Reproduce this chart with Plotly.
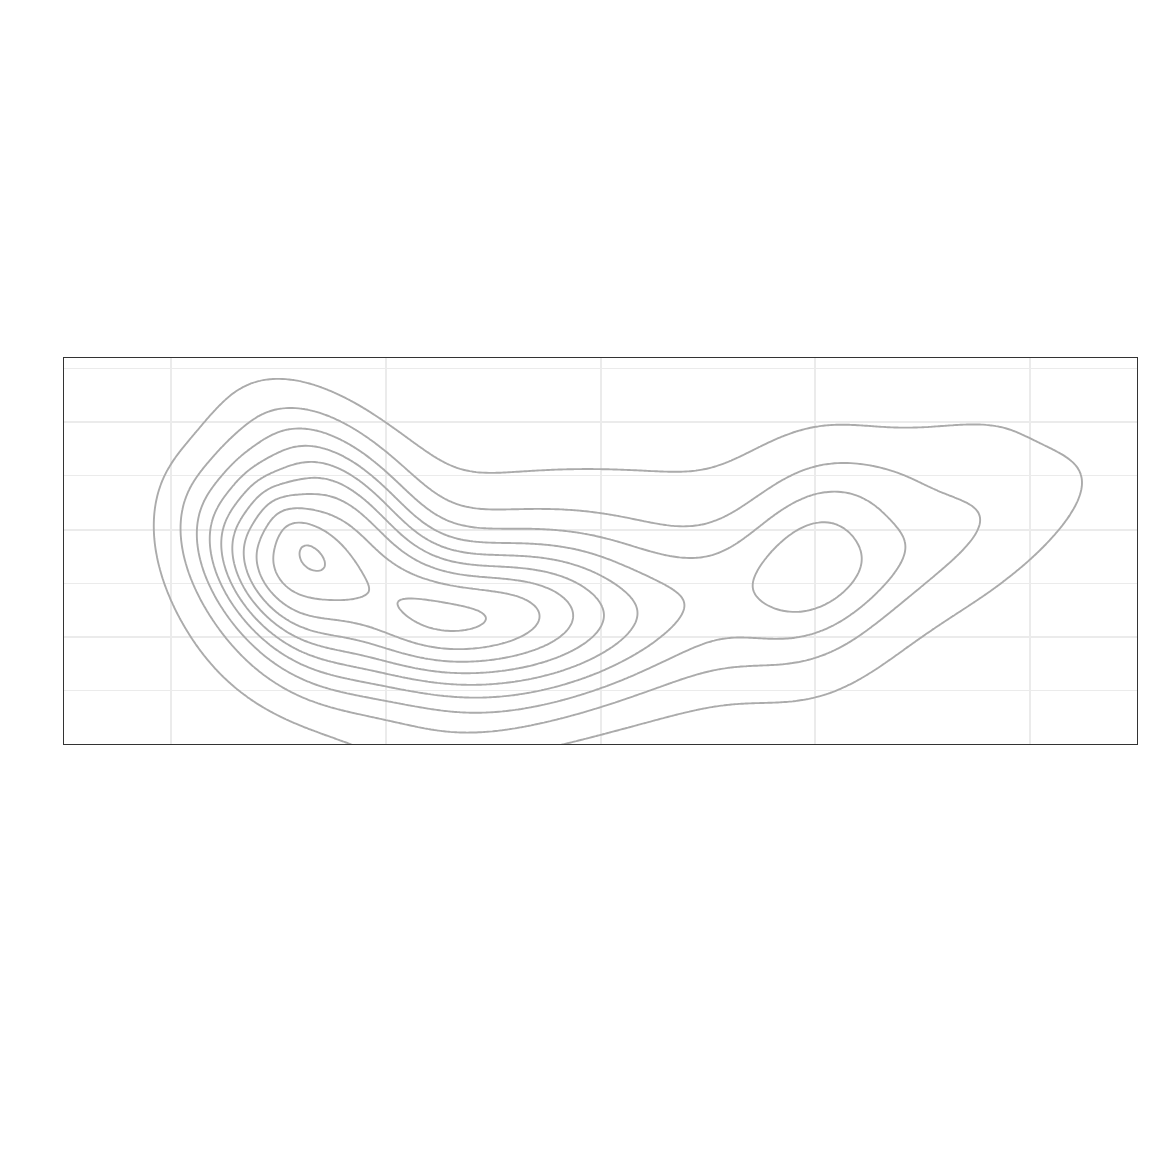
import numpy as np
import plotly.graph_objects as go

# Density surface described as a mixture of components
comp_x = [1.4785, 2.4874, 1.8124, 4.0001, 4.3122, 3.5397, 3.1309, 1.6202]
comp_y = [1.5976, 1.1690, 2.0612, 1.7413, 1.6497, 1.4616, 1.5566, 1.9013]
comp_sx = [0.2460, 0.4826, 0.2964, 0.2383, 0.6201, 1.0007, 1.7611, 0.1693]
comp_sy = [0.5495, 0.5023, 0.6748, 0.7049, 0.6658, 1.1743, 1.0779, 0.3882]
comp_rho = [-0.4596, 0.1969, -0.5400, 0.1569, 0.8458, 0.9402, 0.1361, -0.7697]
comp_w = [6.6150, 7.2072, 6.0834, 1.7862, 1.3841, 1.2175, 1.3683, 1.1991]

contour_levels = list(range(1, 11))
x_ticks = [1, 2, 3, 4, 5]
y_ticks = [1, 2, 3]
y_minor_ticks = [0.5, 1.5, 2.5, 3.5]

xs = np.linspace(0.3, 5.7, 360)
ys = np.linspace(-0.3, 3.9, 300)
XX, YY = np.meshgrid(xs, ys)
Z = np.zeros_like(XX)
for cx, cy, sx, sy, rho, w in zip(comp_x, comp_y, comp_sx, comp_sy, comp_rho, comp_w):
    dx = (XX - cx) / sx
    dy = (YY - cy) / sy
    Q = (dx * dx - 2 * rho * dx * dy + dy * dy) / (1 - rho * rho)
    Z += w * np.exp(-0.5 * Q)

fig = go.Figure()
fig.add_trace(go.Contour(
    x=xs, y=ys, z=Z,
    contours=dict(start=contour_levels[0], end=contour_levels[-1],
                  size=contour_levels[1] - contour_levels[0], coloring='lines'),
    colorscale=[[0, '#ABABAB'], [1, '#ABABAB']], showscale=False,
    line=dict(width=1.9), hoverinfo='skip'))

fig.update_layout(width=1152, height=1152, margin=dict(l=64, r=15, t=358, b=408),
                  plot_bgcolor='white', paper_bgcolor='white', showlegend=False)
fig.update_xaxes(range=[0.5, 5.5], tickvals=x_ticks, showticklabels=False, ticks='',
                 showgrid=True, gridcolor='#EBEBEB', gridwidth=2, zeroline=False,
                 showline=True, linecolor='#333333', linewidth=1.2, mirror=True)
fig.update_yaxes(range=[0, 3.6], tickvals=y_ticks, showticklabels=False, ticks='',
                 showgrid=True, gridcolor='#EBEBEB', gridwidth=2, zeroline=False,
                 showline=True, linecolor='#333333', linewidth=1.2, mirror=True,
                 minor=dict(tickvals=y_minor_ticks, showgrid=True, gridcolor='#EBEBEB', gridwidth=1))
fig.write_html("out.html")
